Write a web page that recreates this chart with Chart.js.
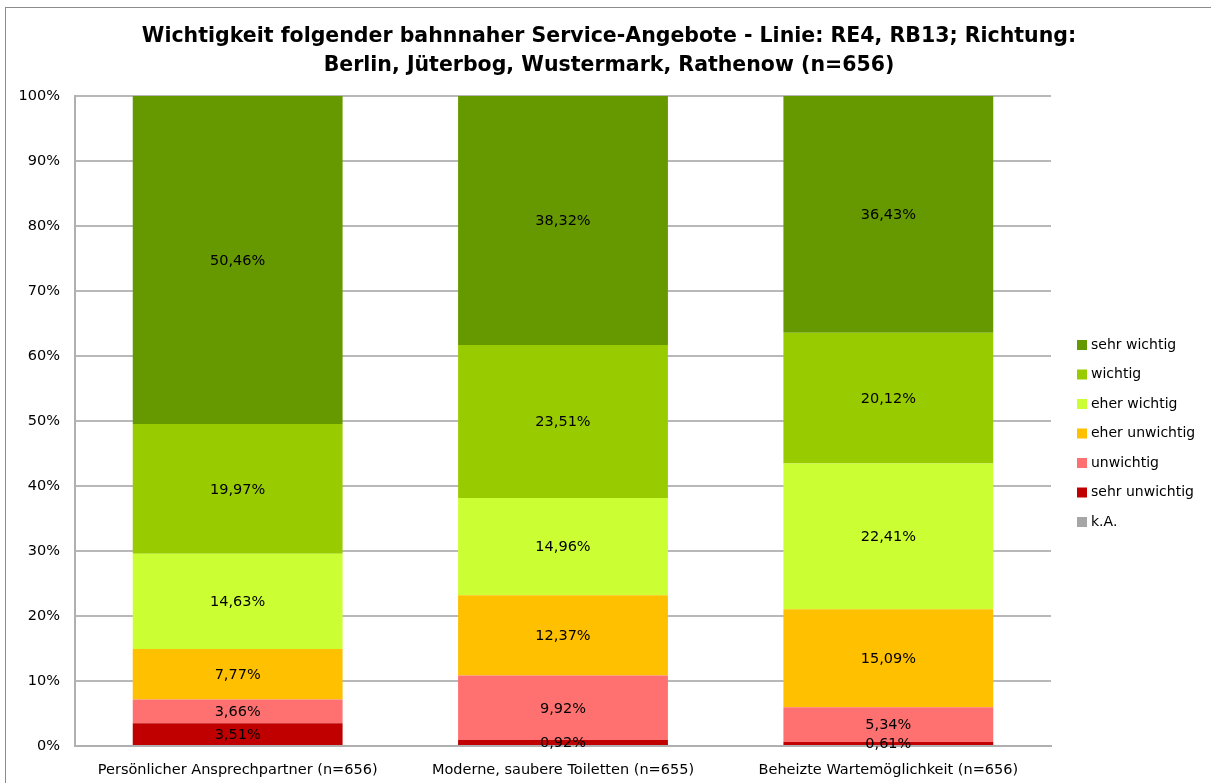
<!DOCTYPE html>
<html lang="de">
<head>
<meta charset="utf-8">
<title>Wichtigkeit bahnnaher Service-Angebote</title>
<script src="https://cdn.jsdelivr.net/npm/chart.js@4.4.1/dist/chart.umd.min.js"></script>
<style>
    html, body { margin: 0; padding: 0; background: #fff; }
    #wrap { position: relative; width: 1211px; height: 783px; }
</style>
</head>
<body>
<div id="wrap"><canvas id="serviceChart"></canvas></div>
<script>
// Categories (x axis)
const categories = [
    'Persönlicher Ansprechpartner (n=656)',
    'Moderne, saubere Toiletten (n=655)',
    'Beheizte Wartemöglichkeit (n=656)'
];

// Series values in percent, bottom of stack first
const kA = [0, 0, 0];
const sehrUnwichtig = [3.51, 0.92, 0.61];
const unwichtig = [3.66, 9.92, 5.34];
const eherUnwichtig = [7.77, 12.37, 15.09];
const eherWichtig = [14.63, 14.96, 22.41];
const wichtig = [19.97, 23.51, 20.12];
const sehrWichtig = [50.46, 38.32, 36.43];

const yTicks = [0, 10, 20, 30, 40, 50, 60, 70, 80, 90, 100];

const titleLines = [
    'Wichtigkeit folgender bahnnaher Service-Angebote - Linie: RE4, RB13; Richtung:',
    'Berlin, Jüterbog, Wustermark, Rathenow (n=656)'
];

const FONT = 'DejaVu Sans';

function fmtPct(v) {
    return v.toFixed(2).replace('.', ',') + '%';
}

// Value labels in the middle of each segment
const segmentLabels = {
    id: 'segmentLabels',
    afterDatasetsDraw(chart) {
        const ctx = chart.ctx;
        ctx.save();
        ctx.font = '14.5px "' + FONT + '"';
        ctx.fillStyle = '#000';
        ctx.textAlign = 'center';
        ctx.textBaseline = 'middle';
        chart.data.datasets.forEach((ds, i) => {
            const meta = chart.getDatasetMeta(i);
            meta.data.forEach((bar, j) => {
                const v = ds.data[j];
                if (!v) return;
                ctx.fillText(fmtPct(v), bar.x, (bar.y + bar.base) / 2 + 1);
            });
        });
        ctx.restore();
    }
};

// Outer frame, title and legend
const frameAndLegend = {
    id: 'frameAndLegend',
    beforeDraw(chart) {
        const ctx = chart.ctx;
        ctx.save();
        ctx.strokeStyle = '#8c8c8c';
        ctx.lineWidth = 1;
        ctx.strokeRect(5.5, 7.5, 1400, 1000);
        ctx.restore();
    },
    afterDraw(chart) {
        const ctx = chart.ctx;
        ctx.save();

        // title, centred on the whole chart
        ctx.font = 'bold 20.5px "' + FONT + '"';
        ctx.fillStyle = '#000';
        ctx.textAlign = 'center';
        ctx.textBaseline = 'middle';
        titleLines.forEach((line, i) => {
            ctx.fillText(line, 609, 37 + i * 29);
        });

        // legend, top of stack first
        const ds = chart.data.datasets.slice().reverse();
        ctx.font = '14px "' + FONT + '"';
        ctx.textAlign = 'left';
        ds.forEach((d, i) => {
            const y = 345 + i * 29.5;
            ctx.fillStyle = d.backgroundColor;
            ctx.fillRect(1077, y - 5, 10, 10);
            ctx.fillStyle = '#000';
            ctx.fillText(d.label, 1091, y);
        });
        ctx.restore();
    }
};

function makeSet(label, data, color) {
    return {
        label: label,
        data: data,
        backgroundColor: color,
        borderWidth: 0,
        categoryPercentage: 1,
        barPercentage: 0.645
    };
}

document.addEventListener('DOMContentLoaded', function() {
    const ctx = document.getElementById('serviceChart').getContext('2d');

    new Chart(ctx, {
        type: 'bar',
        data: {
            labels: categories,
            datasets: [
                makeSet('k.A.', kA, '#a6a6a6'),
                makeSet('sehr unwichtig', sehrUnwichtig, '#c00000'),
                makeSet('unwichtig', unwichtig, '#ff7171'),
                makeSet('eher unwichtig', eherUnwichtig, '#ffc000'),
                makeSet('eher wichtig', eherWichtig, '#ccff33'),
                makeSet('wichtig', wichtig, '#99cc00'),
                makeSet('sehr wichtig', sehrWichtig, '#669900')
            ]
        },
        options: {
            responsive: true,
            maintainAspectRatio: false,
            animation: false,
            layout: {
                padding: { left: 0, right: 160, top: 96, bottom: 0 }
            },
            plugins: {
                legend: { display: false },
                tooltip: { enabled: false },
                title: { display: false }
            },
            scales: {
                x: {
                    stacked: true,
                    grid: { display: false },
                    border: { display: true, color: '#b0b0b0', width: 2 },
                    ticks: {
                        color: '#000',
                        font: { family: FONT, size: 14.5 },
                        padding: 8,
                        maxRotation: 0
                    },
                    afterFit: function(scale) { scale.height = 37; }
                },
                y: {
                    stacked: true,
                    min: 0,
                    max: 100,
                    afterBuildTicks: function(scale) {
                        scale.ticks = yTicks.map(v => ({ value: v }));
                    },
                    grid: { color: '#b8b8b8', lineWidth: 2, drawTicks: false },
                    border: { display: true, color: '#b0b0b0', width: 2 },
                    ticks: {
                        color: '#000',
                        font: { family: FONT, size: 14.5 },
                        padding: 15,
                        callback: function(value) { return value + '%'; }
                    },
                    afterFit: function(scale) { scale.width = 75; }
                }
            }
        },
        plugins: [frameAndLegend, segmentLabels]
    });
});
</script>
</body>
</html>
